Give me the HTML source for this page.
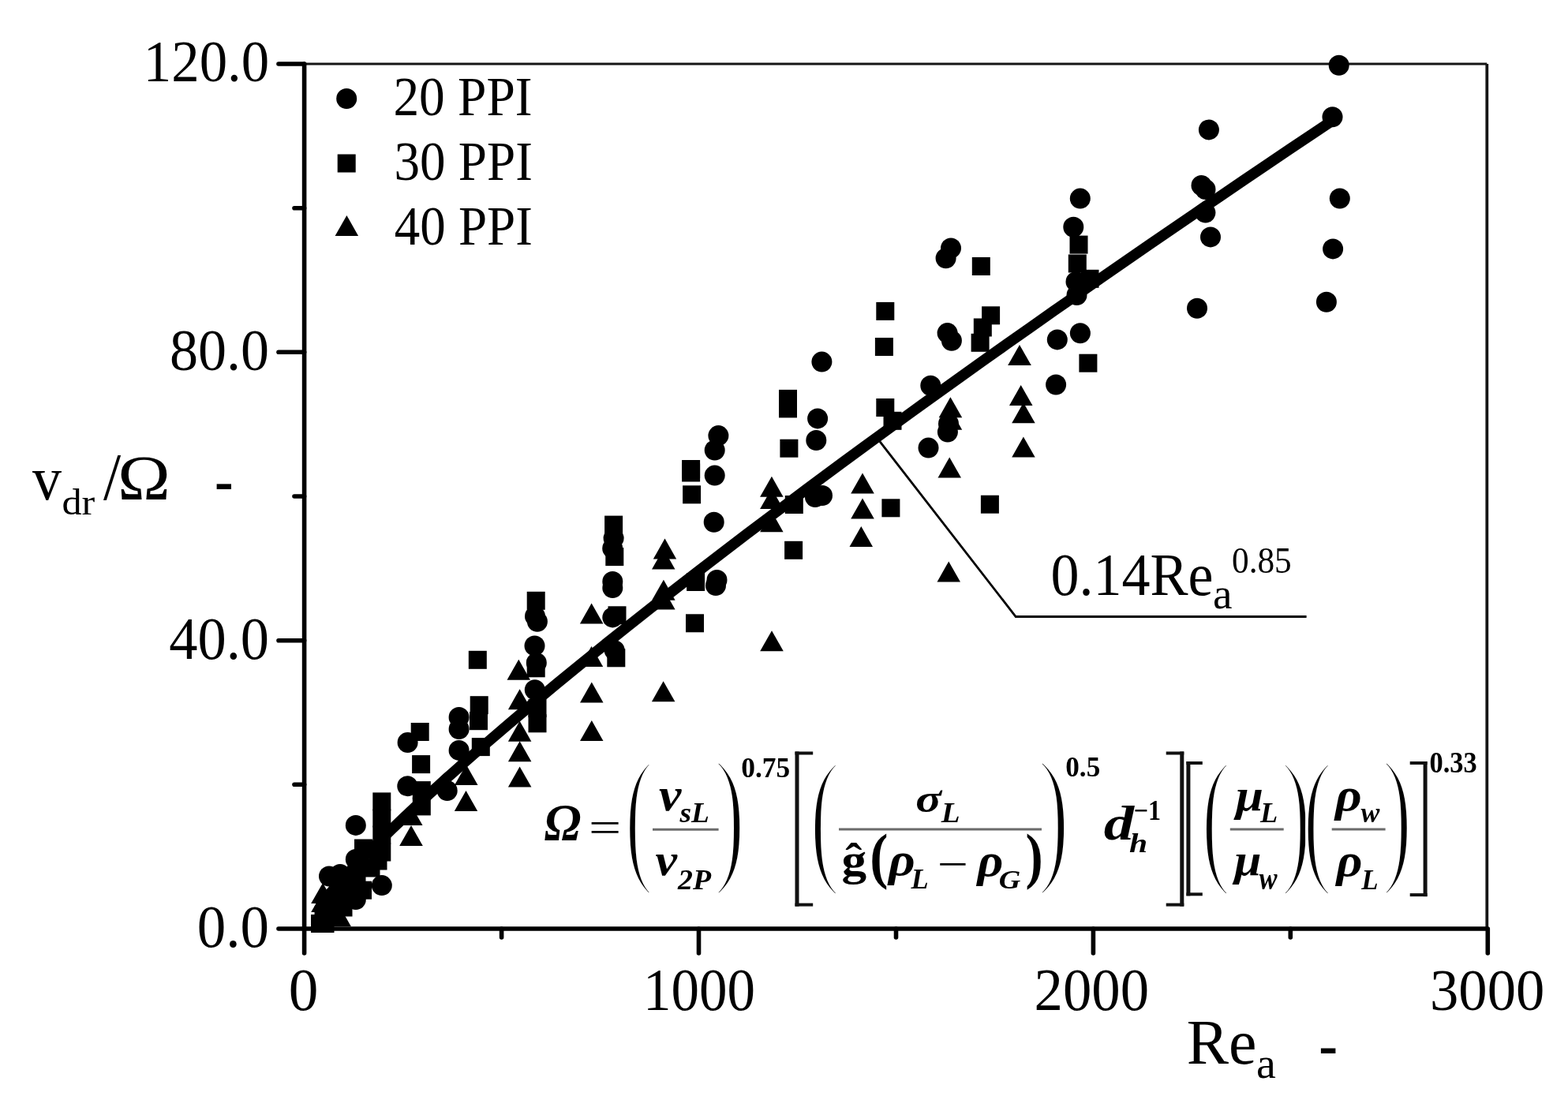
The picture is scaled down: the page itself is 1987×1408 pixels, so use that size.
<!DOCTYPE html>
<html><head><meta charset="utf-8"><style>
html,body{margin:0;padding:0;background:#fff;}
svg{display:block;}
text{font-family:"Liberation Serif","Times New Roman",serif;fill:#000;}
.m{font-family:"Liberation Serif","Times New Roman",serif;font-weight:bold;font-style:italic;}
</style></head><body>
<svg width="1987" height="1408" viewBox="0 0 1987 1408">
<rect width="1987" height="1408" fill="#fff"/>
<path d="M385.6 81 H1884.3" fill="none" stroke="#151515" stroke-width="3.1"/>
<path d="M1884.3 81 V1177" fill="none" stroke="#151515" stroke-width="3.8"/>
<path d="M385.6 81 V1177 H1884.3" fill="none" stroke="#000" stroke-width="5.6" stroke-linecap="round"/>
<line x1="353" y1="1177.0" x2="385.6" y2="1177.0" stroke="#000" stroke-width="5.6" stroke-linecap="round"/>
<line x1="353" y1="811.7" x2="385.6" y2="811.7" stroke="#000" stroke-width="5.6" stroke-linecap="round"/>
<line x1="353" y1="446.3" x2="385.6" y2="446.3" stroke="#000" stroke-width="5.6" stroke-linecap="round"/>
<line x1="353" y1="81.0" x2="385.6" y2="81.0" stroke="#000" stroke-width="5.6" stroke-linecap="round"/>
<line x1="373" y1="994.3" x2="385.6" y2="994.3" stroke="#000" stroke-width="5.6" stroke-linecap="round"/>
<line x1="373" y1="629.0" x2="385.6" y2="629.0" stroke="#000" stroke-width="5.6" stroke-linecap="round"/>
<line x1="373" y1="263.7" x2="385.6" y2="263.7" stroke="#000" stroke-width="5.6" stroke-linecap="round"/>
<line x1="385.6" y1="1177" x2="385.6" y2="1208" stroke="#000" stroke-width="5.6" stroke-linecap="round"/>
<line x1="885.5" y1="1177" x2="885.5" y2="1208" stroke="#000" stroke-width="5.6" stroke-linecap="round"/>
<line x1="1385.4" y1="1177" x2="1385.4" y2="1208" stroke="#000" stroke-width="5.6" stroke-linecap="round"/>
<line x1="1885.3" y1="1177" x2="1885.3" y2="1208" stroke="#000" stroke-width="5.6" stroke-linecap="round"/>
<line x1="635.6" y1="1177" x2="635.6" y2="1188" stroke="#000" stroke-width="5.6" stroke-linecap="round"/>
<line x1="1135.5" y1="1177" x2="1135.5" y2="1188" stroke="#000" stroke-width="5.6" stroke-linecap="round"/>
<line x1="1635.3" y1="1177" x2="1635.3" y2="1188" stroke="#000" stroke-width="5.6" stroke-linecap="round"/>
<polyline points="405.6,1147.6 415.6,1135.5 425.6,1124.0 435.6,1112.9 445.6,1102.2 455.6,1091.7 465.6,1081.4 475.6,1071.4 485.6,1061.5 495.6,1051.7 505.6,1042.1 515.6,1032.6 525.6,1023.2 535.6,1014.0 545.6,1004.8 555.6,995.7 565.6,986.6 575.6,977.7 585.6,968.8 615.6,942.5 645.5,916.8 675.5,891.5 705.5,866.5 735.5,842.0 765.5,817.7 795.5,793.7 825.5,770.0 855.5,746.6 885.5,723.3 915.5,700.3 945.5,677.4 975.5,654.8 1005.5,632.3 1035.5,610.0 1065.5,587.8 1095.5,565.8 1125.5,543.9 1155.4,522.1 1185.4,500.5 1215.4,479.0 1245.4,457.6 1275.4,436.3 1305.4,415.2 1335.4,394.1 1365.4,373.2 1395.4,352.3 1425.4,331.5 1455.4,310.8 1485.4,290.2 1515.4,269.7 1545.4,249.3 1575.4,228.9 1605.4,208.6 1635.3,188.4 1665.3,168.3 1688.8,152.6" fill="none" stroke="#000" stroke-width="13.5" stroke-linejoin="round"/>
<polyline points="1115,559.6 1287.2,781.5 1655.6,781.5" fill="none" stroke="#000" stroke-width="2.8"/>
<g stroke="#6b6b6b" stroke-width="3"><line x1="827" y1="1051.3" x2="910.6" y2="1051.3"/><line x1="1063" y1="1051" x2="1320" y2="1051"/><line x1="1558.8" y1="1051" x2="1626.7" y2="1051"/><line x1="1687.7" y1="1051" x2="1755.6" y2="1051"/></g>
<g fill="#111"><rect x="1007.5" y="952.5" width="5.0" height="196.1"/><rect x="1007.5" y="952.5" width="22.7" height="4"/><rect x="1007.5" y="1144.6" width="22.7" height="4"/><rect x="1495.3" y="952.5" width="5.0" height="196.1"/><rect x="1477.7" y="952.5" width="22.6" height="4"/><rect x="1477.7" y="1144.6" width="22.6" height="4"/><rect x="1503.4" y="965" width="5.0" height="170.3"/><rect x="1503.4" y="965" width="20.4" height="4"/><rect x="1503.4" y="1131.3" width="20.4" height="4"/><rect x="1803.6" y="965" width="5.0" height="171.1"/><rect x="1786.7" y="965" width="21.9" height="4"/><rect x="1786.7" y="1132.1" width="21.9" height="4"/></g>
<g fill="#000"><circle cx="450.8" cy="1045.9" r="13"/><circle cx="483.8" cy="1122.1" r="13"/><circle cx="450.8" cy="1089.0" r="13"/><circle cx="417.0" cy="1110.5" r="13"/><circle cx="431.0" cy="1108.0" r="13"/><circle cx="450.8" cy="1140.0" r="13"/><circle cx="516.6" cy="941.0" r="13"/><circle cx="516.3" cy="996.3" r="13"/><circle cx="566.7" cy="1002.0" r="13"/><circle cx="581.6" cy="909.0" r="13"/><circle cx="581.6" cy="924.0" r="13"/><circle cx="581.6" cy="950.9" r="13"/><circle cx="677.8" cy="874.2" r="13"/><circle cx="678.0" cy="781.0" r="13"/><circle cx="680.9" cy="787.7" r="13"/><circle cx="677.5" cy="818.4" r="13"/><circle cx="679.8" cy="840.0" r="13"/><circle cx="776.3" cy="737.0" r="13"/><circle cx="776.3" cy="745.0" r="13"/><circle cx="776.3" cy="782.4" r="13"/><circle cx="778.7" cy="824.3" r="13"/><circle cx="777.6" cy="682.1" r="13"/><circle cx="776.2" cy="695.0" r="13"/><circle cx="910.4" cy="552.1" r="13"/><circle cx="905.7" cy="570.5" r="13"/><circle cx="905.7" cy="602.6" r="13"/><circle cx="904.7" cy="661.8" r="13"/><circle cx="908.5" cy="735.0" r="13"/><circle cx="907.0" cy="742.0" r="13"/><circle cx="1041.4" cy="458.6" r="13"/><circle cx="1036.1" cy="530.4" r="13"/><circle cx="1034.3" cy="558.0" r="13"/><circle cx="1033.0" cy="630.0" r="13"/><circle cx="1042.0" cy="628.0" r="13"/><circle cx="1200.6" cy="422.1" r="13"/><circle cx="1205.9" cy="431.7" r="13"/><circle cx="1179.3" cy="488.8" r="13"/><circle cx="1200.9" cy="547.5" r="13"/><circle cx="1202.0" cy="537.0" r="13"/><circle cx="1176.5" cy="567.6" r="13"/><circle cx="1339.8" cy="430.4" r="13"/><circle cx="1368.9" cy="422.2" r="13"/><circle cx="1338.1" cy="487.5" r="13"/><circle cx="1205.0" cy="314.5" r="13"/><circle cx="1198.6" cy="327.3" r="13"/><circle cx="1360.3" cy="287.8" r="13"/><circle cx="1363.5" cy="357.0" r="13"/><circle cx="1364.5" cy="374.0" r="13"/><circle cx="1368.8" cy="251.6" r="13"/><circle cx="1531.9" cy="164.4" r="13"/><circle cx="1522.5" cy="235.0" r="13"/><circle cx="1527.5" cy="240.0" r="13"/><circle cx="1527.4" cy="269.5" r="13"/><circle cx="1534.0" cy="300.4" r="13"/><circle cx="1517.0" cy="390.7" r="13"/><circle cx="1688.5" cy="148.2" r="13"/><circle cx="1697.8" cy="251.5" r="13"/><circle cx="1689.1" cy="315.4" r="13"/><circle cx="1680.9" cy="382.8" r="13"/><circle cx="1696.7" cy="82.8" r="13"/><circle cx="430.0" cy="1125.0" r="13"/><circle cx="445.0" cy="1130.0" r="13"/><circle cx="420.0" cy="1150.0" r="13"/><rect x="472.3" y="1004.4" width="23" height="23"/><rect x="472.3" y="1025.5" width="23" height="23"/><rect x="472.3" y="1046.5" width="23" height="23"/><rect x="472.3" y="1068.5" width="23" height="23"/><rect x="449.0" y="1063.5" width="23" height="23"/><rect x="394.0" y="1159.0" width="23" height="23"/><rect x="400.5" y="1159.0" width="23" height="23"/><rect x="448.0" y="1116.7" width="23" height="23"/><rect x="467.5" y="1079.5" width="23" height="23"/><rect x="520.7" y="916.0" width="23" height="23"/><rect x="522.1" y="957.1" width="23" height="23"/><rect x="522.8" y="990.1" width="23" height="23"/><rect x="522.8" y="1010.4" width="23" height="23"/><rect x="595.7" y="882.2" width="23" height="23"/><rect x="595.0" y="902.2" width="23" height="23"/><rect x="597.8" y="935.1" width="23" height="23"/><rect x="669.5" y="886.1" width="23" height="23"/><rect x="669.5" y="905.3" width="23" height="23"/><rect x="593.8" y="824.8" width="23" height="23"/><rect x="667.7" y="749.8" width="23" height="23"/><rect x="667.7" y="835.3" width="23" height="23"/><rect x="767.3" y="694.1" width="23" height="23"/><rect x="766.1" y="653.6" width="23" height="23"/><rect x="770.5" y="768.3" width="23" height="23"/><rect x="769.3" y="822.3" width="23" height="23"/><rect x="864.1" y="583.0" width="23" height="23"/><rect x="864.1" y="587.5" width="23" height="23"/><rect x="865.1" y="615.3" width="23" height="23"/><rect x="870.1" y="726.0" width="23" height="23"/><rect x="869.0" y="778.3" width="23" height="23"/><rect x="987.0" y="493.9" width="23" height="23"/><rect x="987.0" y="506.4" width="23" height="23"/><rect x="988.4" y="556.7" width="23" height="23"/><rect x="994.8" y="628.0" width="23" height="23"/><rect x="994.1" y="685.8" width="23" height="23"/><rect x="1117.4" y="632.3" width="23" height="23"/><rect x="1110.3" y="382.9" width="23" height="23"/><rect x="1108.9" y="428.0" width="23" height="23"/><rect x="1110.3" y="505.0" width="23" height="23"/><rect x="1119.5" y="521.8" width="23" height="23"/><rect x="1244.1" y="388.3" width="23" height="23"/><rect x="1233.8" y="403.5" width="23" height="23"/><rect x="1230.6" y="422.8" width="23" height="23"/><rect x="1231.8" y="326.0" width="23" height="23"/><rect x="1242.9" y="627.7" width="23" height="23"/><rect x="1367.4" y="448.7" width="23" height="23"/><rect x="1355.5" y="298.6" width="23" height="23"/><rect x="1353.8" y="322.5" width="23" height="23"/><rect x="1369.5" y="341.8" width="23" height="23"/><rect x="428.5" y="1103.5" width="23" height="23"/><rect x="413.5" y="1128.5" width="23" height="23"/><rect x="423.5" y="1138.5" width="23" height="23"/><rect x="398.5" y="1148.5" width="23" height="23"/><rect x="426.5" y="1128.5" width="23" height="23"/><rect x="458.5" y="1088.5" width="23" height="23"/><rect x="440.5" y="1096.5" width="23" height="23"/><polygon points="394.2,1145.0 423.8,1145.0 409.0,1119.0"/><polygon points="394.2,1156.0 423.8,1156.0 409.0,1130.0"/><polygon points="394.2,1168.7 423.8,1168.7 409.0,1142.7"/><polygon points="415.2,1174.0 444.8,1174.0 430.0,1148.0"/><polygon points="506.0,1046.0 535.5,1046.0 520.7,1020.0"/><polygon points="506.2,1072.0 535.8,1072.0 521.0,1046.0"/><polygon points="576.0,995.0 605.5,995.0 590.8,969.0"/><polygon points="575.8,1028.0 605.2,1028.0 590.5,1002.0"/><polygon points="643.9,899.3 673.4,899.3 658.6,873.3"/><polygon points="643.9,939.8 673.4,939.8 658.6,913.8"/><polygon points="643.9,965.3 673.4,965.3 658.6,939.3"/><polygon points="643.9,997.6 673.4,997.6 658.6,971.6"/><polygon points="642.5,861.8 672.0,861.8 657.3,835.8"/><polygon points="734.9,790.4 764.4,790.4 749.6,764.4"/><polygon points="734.8,845.0 764.2,845.0 749.5,819.0"/><polygon points="735.0,890.4 764.5,890.4 749.8,864.4"/><polygon points="735.0,939.1 764.5,939.1 749.8,913.1"/><polygon points="827.8,708.6 857.2,708.6 842.5,682.6"/><polygon points="826.0,721.4 855.5,721.4 840.8,695.4"/><polygon points="826.1,760.8 855.6,760.8 840.9,734.8"/><polygon points="826.1,772.4 855.6,772.4 840.9,746.4"/><polygon points="825.9,889.3 855.4,889.3 840.6,863.3"/><polygon points="963.2,825.2 992.8,825.2 978.0,799.2"/><polygon points="963.1,629.8 992.6,629.8 977.9,603.8"/><polygon points="963.1,645.1 992.6,645.1 977.9,619.1"/><polygon points="963.1,674.2 992.6,674.2 977.9,648.2"/><polygon points="1078.2,625.5 1107.8,625.5 1093.0,599.5"/><polygon points="1078.2,657.5 1107.8,657.5 1093.0,631.5"/><polygon points="1076.5,693.0 1106.0,693.0 1091.3,667.0"/><polygon points="1189.7,529.2 1219.2,529.2 1204.4,503.2"/><polygon points="1189.7,544.8 1219.2,544.8 1204.4,518.8"/><polygon points="1188.5,605.4 1218.0,605.4 1203.2,579.4"/><polygon points="1187.5,737.5 1217.0,737.5 1202.2,711.5"/><polygon points="1282.2,579.6 1311.7,579.6 1296.9,553.6"/><polygon points="1282.2,536.2 1311.7,536.2 1296.9,510.2"/><polygon points="1277.2,462.9 1306.8,462.9 1292.0,436.9"/><polygon points="1279.0,514.0 1308.5,514.0 1293.7,488.0"/></g>
<g fill="#000"><circle cx="439.2" cy="125.0" r="13"/><rect x="427.7" y="195.5" width="23" height="23"/><polygon points="424.6,299.0 454.1,299.0 439.4,273.0"/></g>
<text font-size="72" style=""  transform="matrix(0.9843 0 0 1.0286 181.79 103.17)">120.0</text>
<text font-size="72" style=""  transform="matrix(1.0008 0 0 1.0347 215.00 469.17)">80.0</text>
<text font-size="72" style=""  transform="matrix(1.0066 0 0 1.0563 214.29 834.64)">40.0</text>
<text font-size="72" style=""  transform="matrix(1.0143 0 0 1.0521 249.86 1200.15)">0.0</text>
<text font-size="72" style=""  transform="matrix(1.0467 0 0 1.0542 365.86 1280.05)">0</text>
<text font-size="72" style=""  transform="matrix(0.9867 0 0 1.0562 814.88 1280.04)">1000</text>
<text font-size="72" style=""  transform="matrix(1.0109 0 0 1.0449 1310.57 1280.06)">2000</text>
<text font-size="72" style=""  transform="matrix(1.0094 0 0 1.0367 1811.97 1279.96)">3000</text>
<text font-size="66" style=""  transform="matrix(0.9902 0 0 1.0477 498.43 146.05)">20 PPI</text>
<text font-size="66" style=""  transform="matrix(0.9855 0 0 1.0727 499.54 228.03)">30 PPI</text>
<text font-size="66" style=""  transform="matrix(0.9840 0 0 1.0591 499.82 310.44)">40 PPI</text>
<text font-size="80" style=""  transform="matrix(0.9250 0 0 0.9737 41.10 633.03)">v</text>
<text font-size="50" style=""  transform="matrix(1.0051 0 0 0.9189 78.39 651.98)">dr</text>
<text font-size="80" style=""  transform="matrix(0.9955 0 0 1.0481 131.00 632.95)">/</text>
<text font-size="80" style=""  transform="matrix(1.1255 0 0 1.0056 149.10 633.20)">Ω</text>
<text font-size="80" style=""  transform="matrix(0.8857 0 0 1.1000 271.94 638.00)">-</text>
<text font-size="80" style=""  transform="matrix(0.9976 0 0 0.9926 1503.70 1348.31)">Re</text>
<text font-size="57" style=""  transform="matrix(0.9826 0 0 0.9714 1592.03 1366.43)">a</text>
<text font-size="80" style=""  transform="matrix(0.8905 0 0 1.0833 1671.13 1352.43)">-</text>
<text font-size="72" style=""  transform="matrix(1.0005 0 0 1.0521 1331.50 754.25)">0.14Re</text>
<text font-size="57" style=""  transform="matrix(0.9696 0 0 0.9786 1537.06 771.42)">a</text>
<text font-size="44" style=""  transform="matrix(0.9836 0 0 1.0621 1561.03 726.20)">0.85</text>
<text font-size="60" style="font-weight:bold;font-style:italic;"  transform="matrix(1.0395 0 0 1.1025 689.66 1064.00)">Ω</text>
<text font-size="60" style=""  transform="matrix(1.2179 0 0 0.9000 745.95 1066.60)">=</text>
<text font-size="110" style="" stroke="#fff" stroke-width="3.6" transform="matrix(0.9750 0 0 1.7333 791.77 1096.43)">(</text>
<text font-size="50" style="font-weight:bold;font-style:italic;"  transform="matrix(1.2773 0 0 1.1708 835.12 1027.13)">v</text>
<text font-size="34" style="font-weight:bold;font-style:italic;"  transform="matrix(1.1000 0 0 1.0273 861.40 1042.30)">sL</text>
<text font-size="50" style="font-weight:bold;font-style:italic;"  transform="matrix(1.2409 0 0 1.1375 830.46 1109.16)">v</text>
<text font-size="34" style="font-weight:bold;font-style:italic;"  transform="matrix(1.1132 0 0 1.0636 859.00 1126.70)">2P</text>
<text font-size="110" style="" stroke="#fff" stroke-width="3.6" transform="matrix(1.0750 0 0 1.7473 904.95 1096.45)">)</text>
<text font-size="34" style="font-weight:bold;"  transform="matrix(1.0421 0 0 1.0636 939.26 984.50)">0.75</text>
<text font-size="110" style="" stroke="#fff" stroke-width="3.6" transform="matrix(1.0417 0 0 1.7387 1026.01 1096.63)">(</text>
<text font-size="50" style="font-weight:bold;font-style:italic;"  transform="matrix(1.2148 0 0 1.0286 1160.19 1029.00)">σ</text>
<text font-size="34" style="font-weight:bold;font-style:italic;"  transform="matrix(1.1474 0 0 1.0636 1192.70 1042.30)">L</text>
<text font-size="50" style="font-weight:bold;"  transform="matrix(1.2667 0 0 1.1468 1066.43 1109.39)">ĝ</text>
<text font-size="70" style="font-weight:bold;"  transform="matrix(0.9944 0 0 1.1159 1102.22 1110.76)">(</text>
<text font-size="50" style="font-weight:bold;font-style:italic;"  transform="matrix(1.3120 0 0 1.1706 1126.01 1109.12)">ρ</text>
<text font-size="34" style="font-weight:bold;font-style:italic;"  transform="matrix(1.0684 0 0 1.0318 1154.40 1126.00)">L</text>
<text font-size="50" style=""  transform="matrix(1.3913 0 0 1.1333 1187.73 1114.20)">−</text>
<text font-size="50" style="font-weight:bold;font-style:italic;"  transform="matrix(1.2800 0 0 1.1706 1238.48 1109.92)">ρ</text>
<text font-size="34" style="font-weight:bold;font-style:italic;"  transform="matrix(1.1217 0 0 1.0000 1265.78 1126.00)">G</text>
<text font-size="70" style="font-weight:bold;"  transform="matrix(0.9500 0 0 1.1286 1299.40 1111.37)">)</text>
<text font-size="110" style="" stroke="#fff" stroke-width="3.6" transform="matrix(1.1042 0 0 1.7473 1314.97 1096.45)">)</text>
<text font-size="34" style="font-weight:bold;"  transform="matrix(1.0350 0 0 1.0682 1350.26 983.80)">0.5</text>
<text font-size="50" style="font-weight:bold;font-style:italic;"  transform="matrix(1.5320 0 0 1.2257 1398.77 1064.20)">d</text>
<text font-size="34" style="font-weight:bold;font-style:italic;"  transform="matrix(1.2250 0 0 1.0083 1431.08 1079.80)">h</text>
<text font-size="34" style="font-weight:bold;"  transform="matrix(0.9455 0 0 1.0273 1436.71 1039.20)">−1</text>
<text font-size="110" style="" stroke="#fff" stroke-width="3.6" transform="matrix(1.0083 0 0 1.7387 1522.14 1096.63)">(</text>
<text font-size="50" style="font-weight:bold;font-style:italic;"  transform="matrix(1.2571 0 0 1.1471 1565.91 1027.38)">μ</text>
<text font-size="34" style="font-weight:bold;font-style:italic;"  transform="matrix(1.0684 0 0 1.0273 1597.00 1042.30)">L</text>
<text font-size="50" style="font-weight:bold;font-style:italic;"  transform="matrix(1.2286 0 0 1.1471 1564.36 1109.38)">μ</text>
<text font-size="34" style="font-weight:bold;font-style:italic;"  transform="matrix(1.0174 0 0 1.2188 1595.50 1126.70)">w</text>
<text font-size="110" style="" stroke="#fff" stroke-width="3.6" transform="matrix(1.0417 0 0 1.7387 1623.55 1096.63)">)</text>
<text font-size="110" style="" stroke="#fff" stroke-width="3.6" transform="matrix(1.0083 0 0 1.7387 1650.94 1096.63)">(</text>
<text font-size="50" style="font-weight:bold;font-style:italic;"  transform="matrix(1.3120 0 0 1.1706 1692.11 1027.12)">ρ</text>
<text font-size="34" style="font-weight:bold;font-style:italic;"  transform="matrix(1.0522 0 0 1.0687 1724.40 1042.30)">w</text>
<text font-size="50" style="font-weight:bold;font-style:italic;"  transform="matrix(1.2840 0 0 1.1706 1693.58 1109.92)">ρ</text>
<text font-size="34" style="font-weight:bold;font-style:italic;"  transform="matrix(1.0263 0 0 1.0636 1725.20 1126.70)">L</text>
<text font-size="110" style="" stroke="#fff" stroke-width="3.6" transform="matrix(1.0417 0 0 1.7473 1751.55 1096.45)">)</text>
<text font-size="34" style="font-weight:bold;"  transform="matrix(1.0140 0 0 1.1045 1811.49 979.10)">0.33</text>
</svg>
</body></html>
